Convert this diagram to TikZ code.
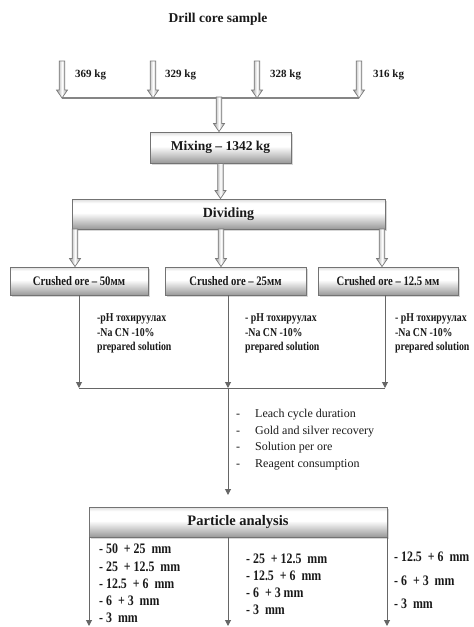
\documentclass[tikz,border=0pt]{standalone}
\usepackage{fontspec}
\setmainfont{Liberation Serif}
\newfontfamily\cnd[FakeStretch=0.82]{Liberation Serif}
\usetikzlibrary{arrows.meta,shadows,calc}

% shading of the process boxes: light rim on top, white band, grey towards the bottom
\pgfdeclareverticalshading{boxshade}{100bp}{color(0bp)=(black!40); color(25bp)=(black!40); color(52bp)=(white); color(68bp)=(white); color(75bp)=(black!14); color(100bp)=(black!14)}
% shading of the hollow block arrows: grey edges, white middle
\pgfdeclarehorizontalshading{arrowshade}{100bp}{color(0bp)=(black!40); color(25bp)=(black!40); color(50bp)=(white); color(75bp)=(black!40); color(100bp)=(black!40)}

\tikzset{
  box/.style={draw=black!55, line width=0.9pt, shade, shading=boxshade,
    drop shadow={shadow xshift=1.5pt, shadow yshift=-1.5pt, fill=black!35, opacity=0.45},
    inner sep=0pt, text=black!90},
  barrowst/.style={draw=black!52, line width=0.7pt, shade, shading=arrowshade},
  flow/.style={draw=black!60, line width=1pt, -{Triangle[length=6pt,width=6pt]}},
  flowline/.style={draw=black!60, line width=1pt},
  bar/.style={draw=black!48, line width=1.6pt},
  lbl/.style={inner sep=0pt, text=black!90},
}

% vertical hollow block arrow from #1 down to #2
\newcommand\blockarrow[2]{%
  \path[barrowst] let \p1=(#1), \p2=(#2) in
    (\x1-2.8pt,\y1) -- (\x1+2.8pt,\y1) -- (\x1+2.8pt,\y2+8pt) -- (\x1+5.5pt,\y2+8pt)
    -- (\x1,\y2) -- (\x1-5.5pt,\y2+8pt) -- (\x1-2.8pt,\y2+8pt) -- cycle;}

\begin{document}
\begin{tikzpicture}[x=1pt,y=-1pt]
\useasboundingbox (0,0) rectangle (474,627);

% title
\node[lbl, font=\bfseries\fontsize{13.5}{16}\selectfont] (title) at (218,19) {Drill core sample};

% four sample inputs
\coordinate (s1) at (62,61);  \coordinate (j1) at (62,98);
\coordinate (s2) at (153,61); \coordinate (j2) at (153,98);
\coordinate (s3) at (257,61); \coordinate (j3) at (257,98);
\coordinate (s4) at (359,61); \coordinate (j4) at (359,98);
\coordinate (jc) at (219,97);
\draw[bar] (j1) -- (j4);
\blockarrow{s1}{j1}
\blockarrow{s2}{j2}
\blockarrow{s3}{j3}
\blockarrow{s4}{j4}
\node[lbl, anchor=west, font=\bfseries\fontsize{11}{13}\selectfont] (k1) at (75,75) {369 kg};
\node[lbl, anchor=west, font=\bfseries\fontsize{11}{13}\selectfont] (k2) at (165,75) {329 kg};
\node[lbl, anchor=west, font=\bfseries\fontsize{11}{13}\selectfont] (k3) at (270,75) {328 kg};
\node[lbl, anchor=west, font=\bfseries\fontsize{11}{13}\selectfont] (k4) at (373,75) {316 kg};

% mixing and dividing
\node[box, minimum width=141pt, minimum height=31pt, font=\bfseries\fontsize{13.5}{16}\selectfont]
  (mix) at (220.5,147.5) {Mixing – 1342 kg};
\blockarrow{jc}{mix.north}
\node[box, minimum width=313pt, minimum height=30pt, font=\bfseries\fontsize{14}{16}\selectfont]
  (div) at (228.5,214) {Dividing};
\blockarrow{mix.south}{div.north}

% crushed ore fractions
\node[box, minimum width=138pt, minimum height=28pt, font=\cnd\bfseries\fontsize{13}{15}\selectfont]
  (c1) at (79,281) {Crushed ore – 50мм};
\node[box, minimum width=141pt, minimum height=28pt, font=\cnd\bfseries\fontsize{13}{15}\selectfont]
  (c2) at (235.5,281) {Crushed ore – 25мм};
\node[box, minimum width=140pt, minimum height=28pt, font=\cnd\bfseries\fontsize{13}{15}\selectfont]
  (c3) at (388,281) {Crushed ore – 12.5 мм};
\coordinate (d1) at (75,229);
\coordinate (d2) at (221,229);
\coordinate (d3) at (382,229);
\blockarrow{d1}{c1.north}
\blockarrow{d2}{c2.north}
\blockarrow{d3}{c3.north}

% leaching columns
\coordinate (m1) at (79,388);
\coordinate (m2) at (228,388);
\coordinate (m3) at (385,388);
\draw[flowline] (m1) -- (m3);
\draw[flow] (c1.south -| m1) -- (m1);
\draw[flow] (c2.south -| m2) -- (m2);
\draw[flow] (c3.south -| m3) -- (m3);

\node[lbl, anchor=north west, align=left, font=\cnd\bfseries\fontsize{12}{14.5}\selectfont]
  (n1) at (97,313.5) {-pH тохируулах\\-Na CN -10\%\\prepared solution};
\node[lbl, anchor=north west, align=left, font=\cnd\bfseries\fontsize{12}{14.5}\selectfont]
  (n2) at (245,313.5) {- pH тохируулах\\-Na CN -10\%\\prepared solution};
\node[lbl, anchor=north west, align=left, font=\cnd\bfseries\fontsize{12}{14.5}\selectfont]
  (n3) at (395,313.5) {- pH тохируулах\\-Na CN -10\%\\prepared solution};

% measured results
\node[lbl, anchor=north west, align=left, font=\fontsize{12}{16.7}\selectfont]
  (res) at (236,409) {\makebox[19pt][l]{-}Leach cycle duration\\
    \makebox[19pt][l]{-}Gold and silver recovery\\
    \makebox[19pt][l]{-}Solution per ore\\
    \makebox[19pt][l]{-}Reagent consumption};

% particle analysis
\coordinate (pin) at (228,495);
\draw[flow] (m2) -- (pin);
\node[box, minimum width=298pt, minimum height=30pt, font=\bfseries\fontsize{14.5}{16}\selectfont]
  (pa) at (238,522) {Particle analysis};
\coordinate (b1) at (89,626);
\coordinate (b2) at (228,626);
\coordinate (b3) at (387,626);
\draw[flow] (pa.south -| b1) -- (b1);
\draw[flow] (pa.south -| b2) -- (b2);
\draw[flow] (pa.south -| b3) -- (b3);

\node[lbl, anchor=north west, align=left, font=\cnd\bfseries\fontsize{14.5}{17.2}\selectfont]
  (f1) at (99,544) {- 50 \ + 25 \ mm\\- 25 \ + 12.5 \ mm\\- 12.5 \ + 6 \ mm\\- 6 \ + 3 \ mm\\- 3 \ mm};
\node[lbl, anchor=north west, align=left, font=\cnd\bfseries\fontsize{14.5}{17}\selectfont]
  (f2) at (246,554) {- 25 \ + 12.5 \ mm\\- 12.5 \ + 6 \ mm\\- 6 \ + 3 mm\\- 3 \ mm};
\node[lbl, anchor=north west, align=left, font=\cnd\bfseries\fontsize{14.5}{23.5}\selectfont]
  (f3) at (394,552) {- 12.5 \ + 6 \ mm\\- 6 \ + 3 \ mm\\- 3 \ mm};
\end{tikzpicture}
\end{document}
